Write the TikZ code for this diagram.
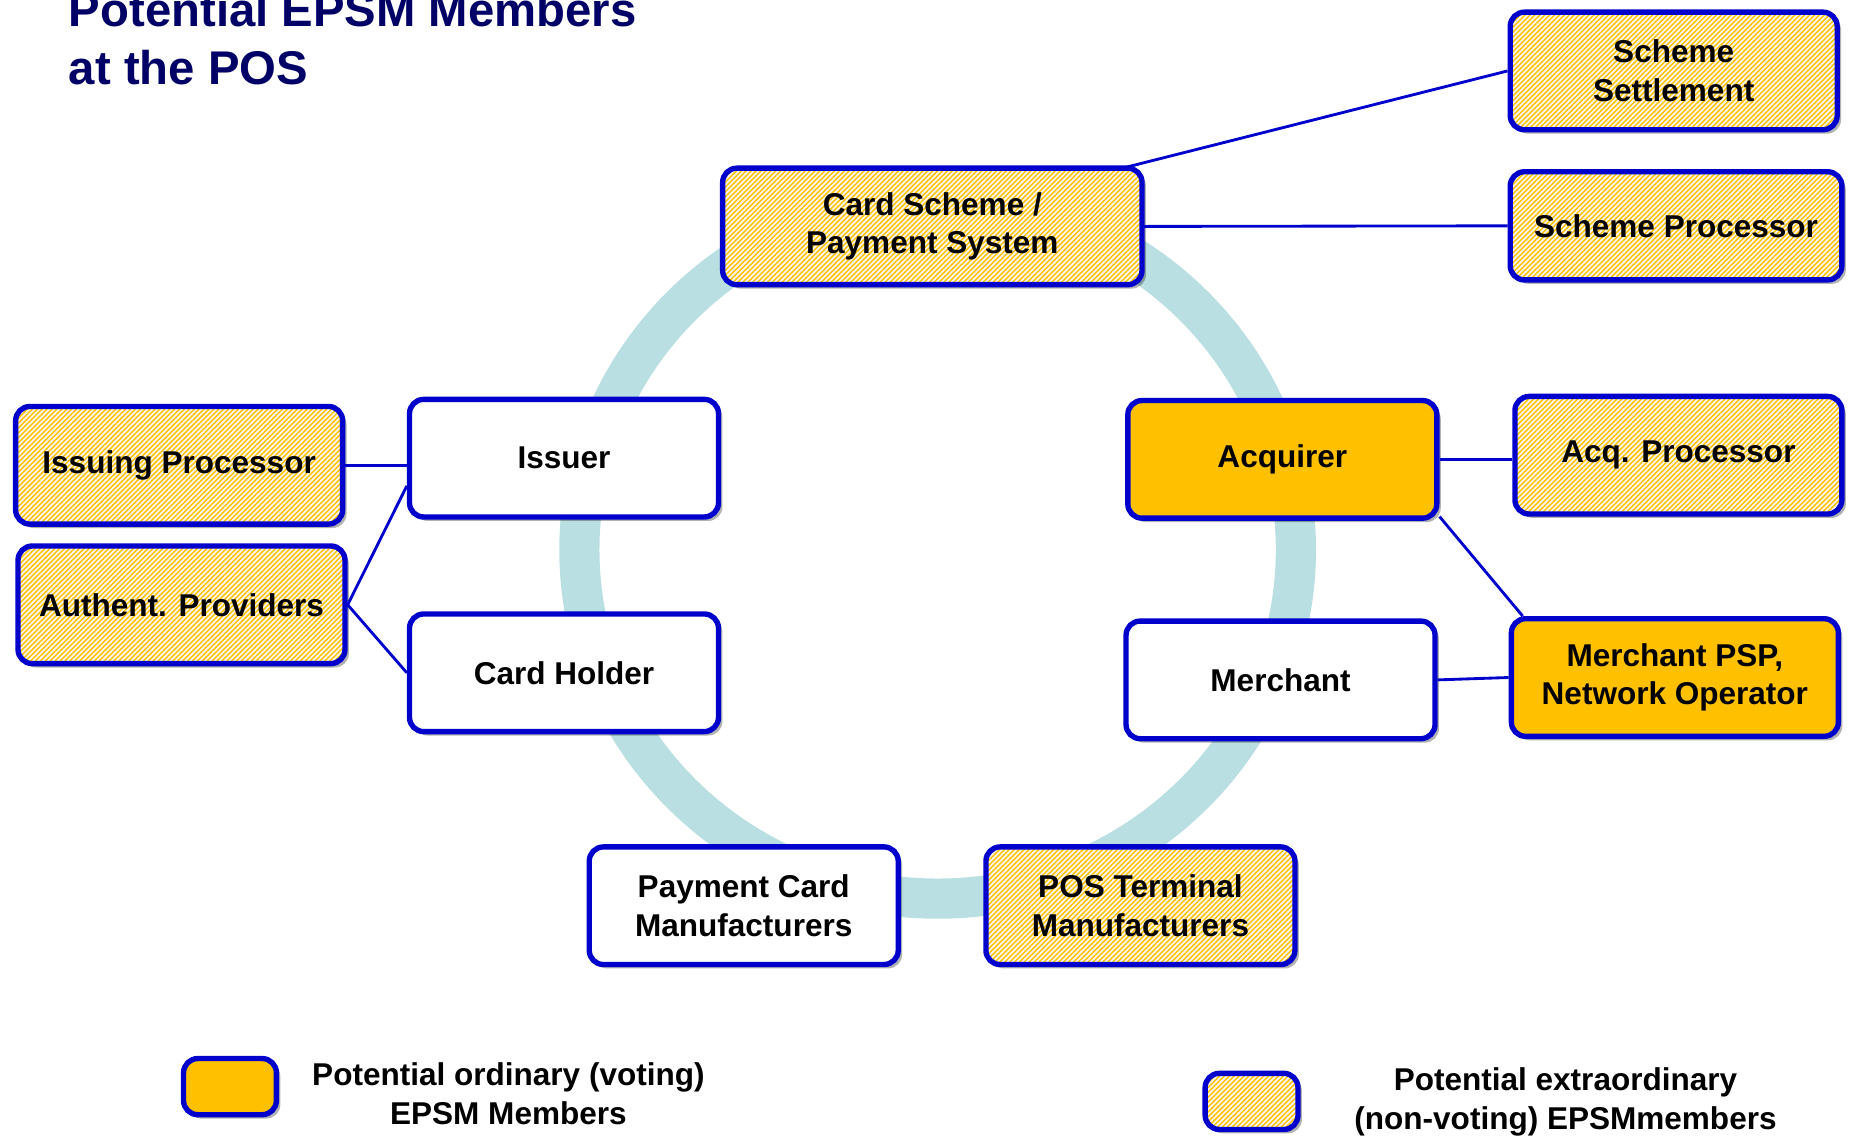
\documentclass[tikz,border=0pt]{standalone}
\usepackage{fontspec}
\setmainfont{Liberation Sans}
\usetikzlibrary{calc}
\usetikzlibrary{shadows}
\usetikzlibrary{patterns.meta}

\definecolor{boxblue}{RGB}{0,0,204}
\definecolor{amber}{RGB}{255,192,0}
\definecolor{ringteal}{RGB}{185,223,226}
\definecolor{titleblue}{RGB}{0,0,102}
\definecolor{cream}{RGB}{250,246,236}

\tikzset{
  member/.style={draw=boxblue, line width=3.4pt, rounded corners=9pt, align=center,
    font=\bfseries\fontsize{20}{24.5}\selectfont, inner sep=2pt,
    drop shadow={shadow xshift=2.5pt, shadow yshift=-2.5pt, fill=black, opacity=0.3},
    minimum width=196pt, minimum height=74.6pt},
  plainbox/.style={member, fill=white},
  votingbox/.style={member, fill=amber},
  hatchbox/.style={member, preaction={fill=cream},
    pattern={Lines[angle=45, distance=2.2pt, line width=0.9pt]}, pattern color=amber},
  widebox/.style={minimum width=207.4pt},
  link/.style={draw=boxblue, line width=1.8pt}
}

\begin{document}
\begin{tikzpicture}[x=0.75pt,y=0.75pt,yscale=-1,xscale=1]
\path [use as bounding box] (0,0) rectangle (1568,962.4);

%Ring
\draw [ringteal, line width=25.5pt] (793,465) ellipse [x radius=303, y radius=295];

% Title
\node [anchor=north west, inner sep=0pt, align=left, text=titleblue,
  font=\bfseries\fontsize{30}{36.4}\selectfont] (title) at (58,-6.6)
  {Potential EPSM Members\\at the POS};

% Boxes on the ring
\node [hatchbox, minimum width=266pt, minimum height=73.9pt] (scheme) at (788.5,191.5) {Card Scheme /\\Payment System};
\node [plainbox] (issuer) at (477,387.5) {Issuer};
\node [votingbox] (acquirer) at (1084.5,388.5) {Acquirer};
\node [plainbox] (holder) at (477,569) {Card Holder};
\node [plainbox] (merchant) at (1083,575) {Merchant};
\node [plainbox] (cardmanu) at (629,766) {Payment Card\\Manufacturers};
\node [hatchbox] (posmanu) at (964.5,766) {POS Terminal\\Manufacturers};

% Boxes outside the ring
\node [hatchbox, widebox] (settle) at (1415.5,60) {Scheme\\Settlement};
\node [hatchbox, minimum width=210.4pt, minimum height=68.6pt] (schproc) at (1417.5,191) {Scheme Processor};
\node [hatchbox, widebox] (issproc) at (151.5,393.5) {Issuing Processor};
\node [hatchbox, widebox] (authprov) at (153.5,511.5) {Authent. Providers};
\node [hatchbox, widebox] (acqproc) at (1419.5,385) {Acq. Processor};
\node [votingbox, widebox] (psp) at (1416.5,573) {Merchant PSP,\\Network Operator};

%Straight Lines
\draw [link] (scheme.17) -- (settle.west);
\draw [link] (scheme.east) -- (schproc.west);
\draw [link] (issproc.east) -- (issproc.east -| issuer.west);
\draw [link] (authprov.east) -- (issuer.190);
\draw [link] (authprov.east) -- (holder.west);
\draw [link] (acquirer.east) -- (acquirer.east -| acqproc.west);
\draw [link] (acquirer.-20) -- (psp.158);
\draw [link] (merchant.east) -- (psp.west);

% Legend
\node [votingbox, minimum width=58.9pt, minimum height=35.6pt] (ordbox) at (194.5,919) {};
\node [align=center, font=\bfseries\fontsize{20}{24.5}\selectfont] (ordtext) at (430,925)
  {Potential ordinary (voting)\\EPSM Members};
\node [hatchbox, minimum width=58.9pt, minimum height=35.6pt] (extbox) at (1058.5,931.5) {};
\node [align=center, font=\bfseries\fontsize{20}{24.5}\selectfont] (exttext) at (1324,932)
  {Potential extraordinary\\(non-voting) EPSMmembers};

\end{tikzpicture}
\end{document}
